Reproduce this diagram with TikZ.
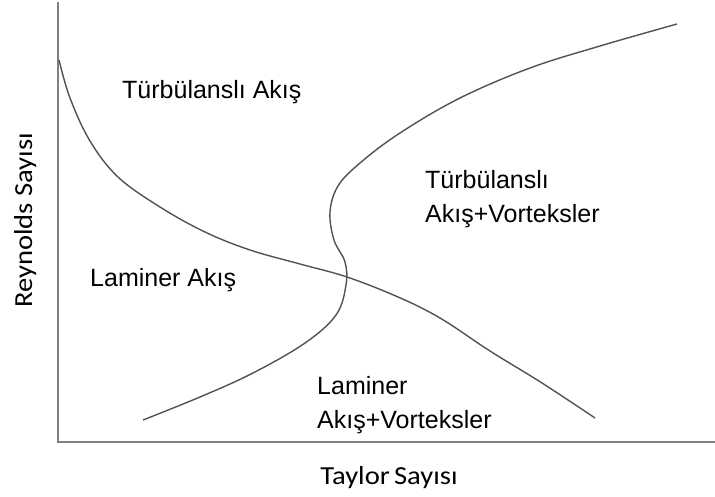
\documentclass[tikz,border=0pt]{standalone}
\usepackage{fontspec}
\setmainfont{Liberation Sans}
\newfontfamily\calfont{Carlito}
\begin{document}
\begin{tikzpicture}[x=1pt,y=-1pt,
  axisline/.style={draw=black!50,line width=1.8pt},
  curveline/.style={draw=black!68,line width=1.4pt,line join=round},
  regionlabel/.style={anchor=base west,inner sep=0pt,font=\fontsize{25}{30}\selectfont,text=black},
  axislabel/.style={anchor=base,inner sep=0pt,font=\calfont\fontsize{26}{30}\selectfont,text=black}]
\useasboundingbox (0,0) rectangle (715,497);
\coordinate (ytop) at (58,2);
\coordinate (orig) at (58,442);
\coordinate (xend) at (715,442);
\draw[axisline] (ytop) -- (orig) -- (xend);
\draw[curveline] plot[smooth,tension=0.6] coordinates {(59,60) (70,98) (90,141) (118,177) (160,207) (205,232) (250,250) (300,264) (347,277) (398,297) (440,318) (490,351) (542,383) (595,418)};
\draw[curveline] plot[smooth,tension=0.6] coordinates {(143,420) (200,397) (253,373) (305,343) (336,315) (346,285) (345,262) (334,240) (330,212) (338,186) (360,163) (400,133) (460,98) (530,68) (600,46) (677,24)};
\node[regionlabel] (tl) at (122,99) {Türbülanslı Akış};
\node[regionlabel] (tv1) at (425,189) {Türbülanslı};
\node[regionlabel] (tv2) at (425,223) {Akış+Vorteksler};
\node[regionlabel] (la) at (90,286) {Laminer Akış};
\node[regionlabel] (lv1) at (317,394) {Laminer};
\node[regionlabel] (lv2) at (317,428) {Akış+Vorteksler};
\node[axislabel] (xl) at (389,484) {\scalebox{1.1}[1]{Taylor\hspace{-2pt} Sayısı}};
\node[axislabel,rotate=90] (yl) at (32,220.5) {\scalebox{1.1}[1]{Reynolds Sayısı}};
\end{tikzpicture}
\end{document}
